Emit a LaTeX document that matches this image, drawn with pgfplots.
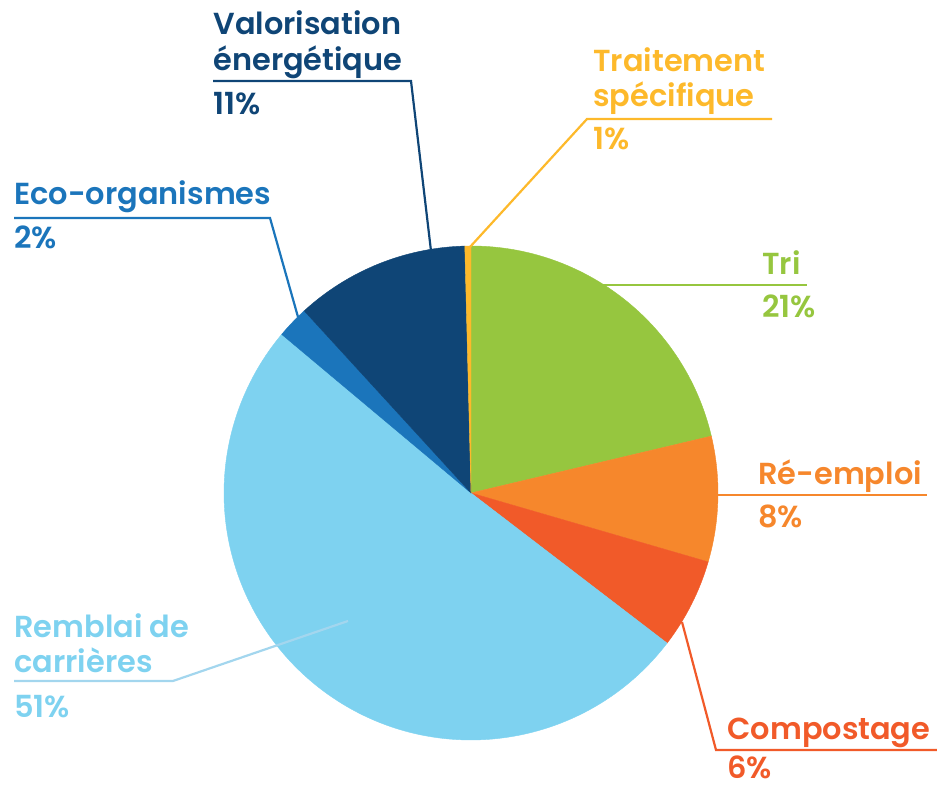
\documentclass[border=0pt]{standalone}
\usepackage{pgfplots}
\pgfplotsset{compat=1.18}
\usepackage{fontspec}
\setmainfont{Poppins}[UprightFont=* SemiBold]

\definecolor{cTri}{HTML}{96C63F}
\definecolor{cRe}{HTML}{F6872C}
\definecolor{cCom}{HTML}{F15A29}
\definecolor{cRem}{HTML}{7ED2F0}
\definecolor{cRemLine}{HTML}{A3D6EE}
\definecolor{cEco}{HTML}{1B75BB}
\definecolor{cVal}{HTML}{0F4576}
\definecolor{cTrt}{HTML}{FDB92B}

% share of each slice, clockwise from 12 o'clock
\def\slices{21.3/cTri, 8.2/cRe, 5.9/cCom, 50.7/cRem, 2.1/cEco, 11.4/cVal, 0.4/cTrt}

% build the fill commands for the slices
\gdef\piecmds{}
\foreach \val/\col [evaluate=\val as \ea using {\sa-3.6*\val}, remember=\ea as \sa (initially 90)]
  in \slices {
  \xdef\piecmds{\unexpanded\expandafter{\piecmds}%
    \noexpand\fill[\col, draw=\col, line width=0.2pt] (axis cs:471,297) -- ++(\sa:123.5pt)
    arc[start angle=\sa, end angle=\ea, radius=123.5pt] -- cycle;}
}

\begin{document}
\begin{tikzpicture}[lbl/.style={anchor=base west, inner sep=0pt,
    font=\fontsize{15.2}{15}\selectfont}]
\begin{axis}[hide axis, clip=false,
  x=0.5pt, y=0.5pt, xmin=0, xmax=937, ymin=0, ymax=790]
\piecmds
% leader lines
\draw[cVal, line width=1.1pt] (axis cs:213,709) -- (axis cs:411,709) -- (axis cs:431,539);
\draw[cTrt, line width=1.1pt] (axis cs:772,671) -- (axis cs:587,671) -- (axis cs:470,543);
\draw[cEco, line width=1.1pt] (axis cs:14,572) -- (axis cs:270,572) -- (axis cs:298,473);
\draw[cTri, line width=1.1pt] (axis cs:590,505) -- (axis cs:807,505);
\draw[cRe, line width=1.1pt] (axis cs:700,295) -- (axis cs:927,295);
\draw[cCom, line width=1.1pt] (axis cs:682,168) -- (axis cs:716,40) -- (axis cs:937,40);
\draw[cRemLine, line width=1.1pt] (axis cs:14,109) -- (axis cs:173,109) -- (axis cs:348,169);
% labels
\node[lbl, cVal] at (axis cs:213,755) {Valorisation};
\node[lbl, cVal] at (axis cs:213,719) {énergétique};
\node[lbl, cVal] at (axis cs:213,675) {11\%};
\node[lbl, cTrt] at (axis cs:593,718) {Traitement};
\node[lbl, cTrt] at (axis cs:593,683) {spécifique};
\node[lbl, cTrt] at (axis cs:593,640) {1\%};
\node[lbl, cEco] at (axis cs:14,585) {Eco-organismes};
\node[lbl, cEco] at (axis cs:14,541) {2\%};
\node[lbl, cTri] at (axis cs:762,515) {Tri};
\node[lbl, cTri] at (axis cs:762,472) {21\%};
\node[lbl, cRe] at (axis cs:758,305) {Ré-emploi};
\node[lbl, cRe] at (axis cs:758,262) {8\%};
\node[lbl, cCom] at (axis cs:727,50) {Compostage};
\node[lbl, cCom] at (axis cs:727,11) {6\%};
\node[lbl, cRem] at (axis cs:14,152) {Remblai de};
\node[lbl, cRem] at (axis cs:14,117) {carrières};
\node[lbl, cRem] at (axis cs:14,72) {51\%};
\end{axis}
\pgfresetboundingbox
\path[use as bounding box] (0,0) rectangle (468.5pt,395pt);
\end{tikzpicture}
\end{document}
